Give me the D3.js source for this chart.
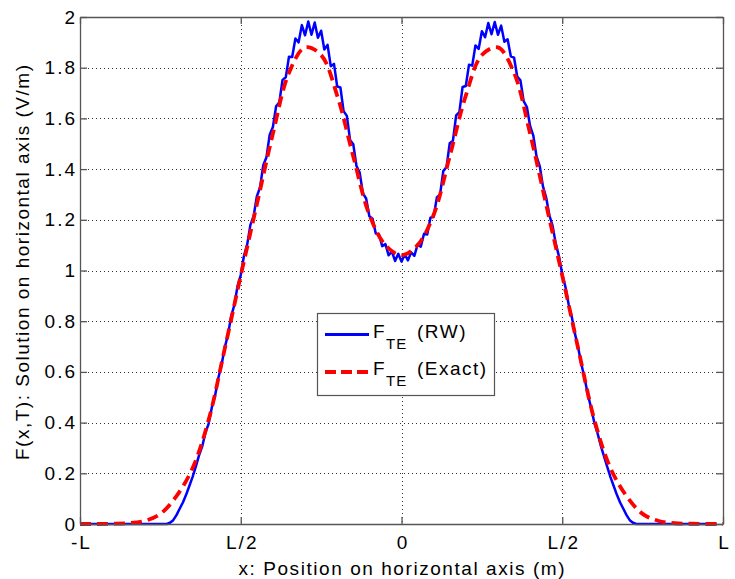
<!DOCTYPE html>
<html><head><meta charset="utf-8">
<script src="https://cdn.jsdelivr.net/npm/d3@7"></script>
<style>body{margin:0;background:#fff}svg{display:block}text{font-family:"Liberation Sans",Arial,Helvetica,sans-serif;fill:#000}</style>
</head><body><svg id="c" width="735" height="579"></svg>
<script>
// ---- data ----
const xTickValues = [-1, -0.5, 0, 0.5, 1];
const xTickLabels = ["-L", "L/2", "0", "L/2", "L"];
const yTickValues = [0, 0.2, 0.4, 0.6, 0.8, 1, 1.2, 1.4, 1.6, 1.8, 2];
const yTickLabels = ["0", "0.2", "0.4", "0.6", "0.8", "1", "1.2", "1.4", "1.6", "1.8", "2"];

// Exact solution, x from -1 to 1 step 0.05 (units of L)
const exactX = [-1,-0.95,-0.9,-0.85,-0.8,-0.75,-0.7,-0.65,-0.6,-0.55,-0.5,-0.45,-0.4,-0.35,-0.3,-0.25,-0.2,-0.15,-0.1,-0.05,0,
  0.05,0.1,0.15,0.2,0.25,0.3,0.35,0.4,0.45,0.5,0.55,0.6,0.65,0.7,0.75,0.8,0.85,0.9,0.95,1];
const exactY = [0,0,0.001,0.003,0.012,0.04,0.11,0.22,0.41,0.69,0.98,1.26,1.54,1.78,1.88,1.85,1.69,1.45,1.22,1.10,1.06,
  1.10,1.22,1.45,1.69,1.85,1.88,1.78,1.54,1.26,0.98,0.69,0.41,0.22,0.11,0.04,0.012,0.003,0.001,0,0];

// Random-walk solution, x from -1 to 1 step 0.01
const rwY = [
 0,0,0,0,0,0,0,0,0,0, 0,0,0,0,0,0,0,0,0,0, 0,0,0,0,0,0,0,            // -1.00 .. -0.74
 0,0.005,0.015,0.035,0.06,0.085,0.115,0.15,0.185,0.225,              // -0.73 .. -0.64
 0.27,0.305,0.36,0.395,0.46,0.505,0.575,0.625,0.695,0.745,           // -0.63 .. -0.54
 0.818,0.864,0.938,0.982,1.058,1.102,1.180,1.214,1.292,1.328,        // -0.53 .. -0.44
 1.415,1.447,1.536,1.566,1.648,1.664,1.752,1.762,1.843,1.842,        // -0.43 .. -0.34
 1.915,1.900,1.968,1.928,1.982,1.930,1.978,1.918,1.946,1.872,        // -0.33 .. -0.24
 1.890,1.806,1.815,1.726,1.722,1.628,1.610,1.515,1.498,1.412,        // -0.23 .. -0.14
 1.386,1.304,1.284,1.214,1.204,1.146,1.142,1.096,1.104,1.060,        // -0.13 .. -0.04
 1.075,1.038,1.066,1.035,                                            // -0.03 .. 0.00
 1.064,1.040,1.072,1.058,1.102,1.094,1.145,1.142,1.208,1.212,        // 0.01 .. 0.10
 1.288,1.300,1.392,1.408,1.502,1.512,1.612,1.625,1.724,1.728,        // 0.11 .. 0.20
 1.812,1.808,1.888,1.874,1.944,1.920,1.976,1.932,1.980,1.930,        // 0.21 .. 0.30
 1.966,1.902,1.912,1.845,1.840,1.765,1.750,1.668,1.645,1.570,        // 0.31 .. 0.40
 1.532,1.450,1.412,1.332,1.288,1.218,1.176,1.105,1.055,0.985,        // 0.41 .. 0.50
 0.935,0.866,0.815,0.748,0.692,0.628,0.572,0.508,0.458,0.398,        // 0.51 .. 0.60
 0.357,0.308,0.267,0.225,0.185,0.15,0.115,0.085,0.06,0.035,          // 0.61 .. 0.70
 0.015,0.005,0,0,0,0,0,0,0,0, 0,0,0,0,0,0,0,0,0,0, 0,0,0,0,0,0,0,0   // 0.71 .. 1.00
];
const rwX = d3.range(rwY.length).map(i => -1 + i * 0.01);

const seriesNames = ["(RW)", "(Exact)"];

// ---- layout ----
const svg = d3.select("#c");
const L = 80, R = 723, T = 17, B = 524;
const x = d3.scaleLinear().domain([-1, 1]).range([L, R]);
const y = d3.scaleLinear().domain([0, 2]).range([B, T]);

// grid
const grid = svg.append("g").attr("stroke", "#333").attr("stroke-width", 1).attr("stroke-dasharray", "1,3");
grid.selectAll(".gx").data(xTickValues.slice(1, -1)).join("line")
  .attr("x1", d => Math.round(x(d)) + 0.5).attr("x2", d => Math.round(x(d)) + 0.5).attr("y1", T).attr("y2", B);
grid.selectAll(".gy").data(yTickValues.slice(1, -1)).join("line")
  .attr("y1", d => Math.round(y(d)) + 0.5).attr("y2", d => Math.round(y(d)) + 0.5).attr("x1", L).attr("x2", R);

// curves
const lineRW = d3.line().x((d, i) => x(rwX[i])).y(d => y(d));
svg.append("path").datum(rwY).attr("d", lineRW).attr("fill", "none").attr("stroke", "#0000ff").attr("stroke-width", 2.5).attr("stroke-linejoin", "round");
const lineEx = d3.line().x((d, i) => x(exactX[i])).y(d => y(d)).curve(d3.curveCatmullRom);
svg.append("path").datum(exactY).attr("d", lineEx).attr("fill", "none").attr("stroke", "#ff0000").attr("stroke-width", 3.8).attr("stroke-dasharray", "11,6");

// axes (box with inward ticks)
const axisColor = "#555";
const ax = svg.append("g").attr("transform", `translate(0,${B})`).call(d3.axisBottom(x).tickValues(xTickValues).tickFormat((d, i) => xTickLabels[i]).tickSizeInner(-7).tickSizeOuter(0).tickPadding(11.5));
const axTop = svg.append("g").attr("transform", `translate(0,${T})`).call(d3.axisTop(x).tickValues(xTickValues).tickFormat("").tickSizeInner(-7).tickSizeOuter(0));
const ay = svg.append("g").attr("transform", `translate(${L},0)`).call(d3.axisLeft(y).tickValues(yTickValues).tickFormat((d, i) => yTickLabels[i]).tickSizeInner(-7).tickSizeOuter(0).tickPadding(3));
const ayR = svg.append("g").attr("transform", `translate(${R},0)`).call(d3.axisRight(y).tickValues(yTickValues).tickFormat("").tickSizeInner(-7).tickSizeOuter(0));
[ax, axTop, ay, ayR].forEach(g => {
  g.select(".domain").attr("stroke", axisColor).attr("stroke-width", 1.3);
  g.selectAll(".tick line").attr("stroke", axisColor).attr("stroke-width", 1.3);
  g.selectAll("text").attr("font-size", 19).attr("letter-spacing", 2).attr("font-family", '"Liberation Sans",Arial,sans-serif').attr("fill", "#000");
});
ax.selectAll("text").attr("dx", 1);

// axis titles
svg.append("text").attr("x", (L + R) / 2).attr("y", 575).attr("text-anchor", "middle").attr("font-size", 19)
  .attr("textLength", 326).attr("lengthAdjust", "spacing")
  .text("x: Position on horizontal axis (m)");
svg.append("text").attr("transform", "translate(29,262.5) rotate(-90)").attr("text-anchor", "middle").attr("font-size", 19)
  .attr("textLength", 395).attr("lengthAdjust", "spacing")
  .text("F(x,T): Solution on horizontal axis (V/m)");

// legend
const lg = svg.append("g");
lg.append("rect").attr("x", 317.5).attr("y", 313.5).attr("width", 177).attr("height", 82).attr("fill", "#fff").attr("stroke", axisColor).attr("stroke-width", 1.2);
const rows = [{c: "#0000ff", w: 3, dash: null, yy: 334.5, base: 337.5}, {c: "#ff0000", w: 3.8, dash: "11,5", yy: 372, base: 374.5}];
rows.forEach((r, i) => {
  lg.append("line").attr("x1", 325).attr("x2", 369).attr("y1", r.yy).attr("y2", r.yy).attr("stroke", r.c).attr("stroke-width", r.w).attr("stroke-dasharray", r.dash);
  lg.append("text").attr("x", 373).attr("y", r.base).attr("font-size", 19).text("F");
  lg.append("text").attr("x", 386).attr("y", r.base + 11).attr("font-size", 15).attr("letter-spacing", 1).text("TE");
  lg.append("text").attr("x", 417).attr("y", r.base).attr("font-size", 19).attr("letter-spacing", 1.5).text(seriesNames[i]);
});
</script></body></html>
